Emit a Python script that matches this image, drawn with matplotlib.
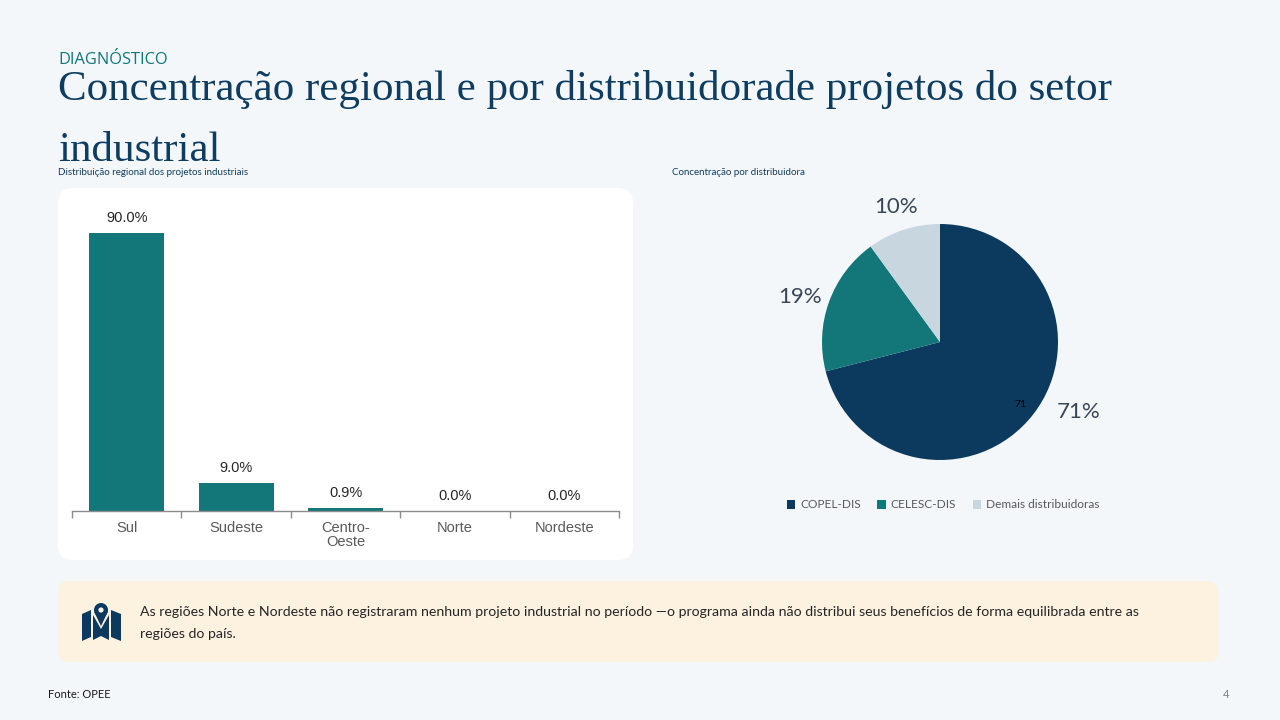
import matplotlib
matplotlib.use("Agg")
import matplotlib.pyplot as plt
from matplotlib.patches import FancyBboxPatch, Polygon, Circle
import numpy as np

# ---- data ----
regions = ["Sul", "Sudeste", "Centro-\nOeste", "Norte", "Nordeste"]
region_share = [90.0, 9.0, 0.9, 0.0, 0.0]
distributors = ["COPEL-DIS", "CELESC-DIS", "Demais distribuidoras"]
dist_share = [71, 19, 10]

# ---- styles ----
BG = "#F3F7FA"
NAVY = "#0B3A5E"
TEAL = "#13777A"
LIGHT = "#C8D6E0"
TITLE_C = "#0E3D61"
NOTE_BG = "#FDF1E0"
W, H = 1280, 720

fig = plt.figure(figsize=(12.8, 7.2), dpi=100, facecolor=BG)

def fx(px):
    return px / W

def fy(py):
    return 1 - py / H

# Header
fig.text(fx(58), fy(60), "DIAGNÓSTICO", family="Open Sans", fontsize=11.8,
         color=TEAL, va="center", ha="left")
fig.text(fx(58), fy(100), "Concentração regional e por distribuidorade projetos do setor",
         family="Liberation Serif", fontsize=31, color=TITLE_C, va="baseline", ha="left")
fig.text(fx(58), fy(161), "industrial",
         family="Liberation Serif", fontsize=31, color=TITLE_C, va="baseline", ha="left")

fig.text(fx(58), fy(172.5), "Distribuição regional dos projetos industriais", family="Lato",
         fontsize=7, color=TITLE_C, va="center", ha="left")
fig.text(fx(672), fy(172.5), "Concentração por distribuidora", family="Lato",
         fontsize=7, color=TITLE_C, va="center", ha="left")

# Card for bar chart (behind axes)
card = FancyBboxPatch((fx(58), fy(560)), fx(633 - 58), (560 - 188) / H,
                      boxstyle="round,pad=0,rounding_size=0.012",
                      transform=fig.transFigure, facecolor="white", edgecolor="none",
                      mutation_aspect=W / H, zorder=-5)
fig.patches.append(card)

# Bar chart
ax = fig.add_axes([fx(72), fy(511), fx(619 - 72), (511 - 202) / H], zorder=2)
ax.set_facecolor("none")
x = np.arange(len(regions))
bars = ax.bar(x, region_share, width=0.685, color=TEAL)
ax.set_xlim(-0.5, len(regions) - 0.5)
ax.set_ylim(0, 100)
for b, v in zip(bars, region_share):
    ax.annotate(f"{v:.1f}%", (b.get_x() + b.get_width() / 2, v), xytext=(0, 6),
                textcoords="offset points", ha="center", va="bottom",
                family="Liberation Sans", fontsize=10.5, color="#262626")
for s in ["top", "right", "left"]:
    ax.spines[s].set_visible(False)
ax.spines["bottom"].set_color("#8C8C8C")
ax.spines["bottom"].set_linewidth(1.0)
ax.set_yticks([])
ax.set_xticks(x)
ax.set_xticklabels(regions, family="Liberation Sans", fontsize=10.5, color="#595959",
                   linespacing=1.0, va="top")
ax.tick_params(axis="x", length=0, pad=7)
ax.set_xticks(np.arange(len(regions) + 1) - 0.5, minor=True)
ax.tick_params(axis="x", which="minor", length=5, color="#8C8C8C", width=1.0)

# Pie chart
r_px = 118
pax = fig.add_axes([fx(940 - r_px), fy(342 + r_px), fx(2 * r_px), 2 * r_px / H])
pax.set_facecolor("none")
wedges, texts, autotexts = pax.pie(
    dist_share, colors=[NAVY, TEAL, LIGHT], startangle=90, counterclock=False,
    labels=[f"{v}%" for v in dist_share], labeldistance=1.2,
    autopct=lambda p: f"{p:.0f}" if p > 50 else "", pctdistance=0.86,
    textprops=dict(family="Lato", fontsize=16, color="#3A4656"),
    wedgeprops=dict(linewidth=0))
pax.set_xlim(-1, 1)
pax.set_ylim(-1, 1)
pax.set_aspect("equal")
for t in autotexts:
    t.set_fontsize(7.5)
    t.set_color("black")
# nudge the large-slice label like the reference layout
w0 = wedges[0]
ang = np.deg2rad((w0.theta1 + w0.theta2) / 2 + 11)
texts[0].set_position((1.32 * np.cos(ang), 1.32 * np.sin(ang)))
w1 = wedges[1]
ang1 = np.deg2rad((w1.theta1 + w1.theta2) / 2 + 2)
texts[1].set_position((1.25 * np.cos(ang1), 1.25 * np.sin(ang1)))
for t in texts:
    t.set_ha("center")
    t.set_va("center")

leg = fig.legend(wedges, distributors, loc="center", bbox_to_anchor=(fx(943), fy(505)),
                 ncol=3, frameon=False, handlelength=0.7, handleheight=0.7,
                 handletextpad=0.4, columnspacing=1.4,
                 prop=dict(family="Lato", size=8.6))
for t in leg.get_texts():
    t.set_color("#595959")

# Note box
note = FancyBboxPatch((fx(58), fy(662)), fx(1218 - 58), (662 - 581) / H,
                      boxstyle="round,pad=0,rounding_size=0.008",
                      transform=fig.transFigure, facecolor=NOTE_BG, edgecolor="none",
                      mutation_aspect=W / H, zorder=-5)
fig.patches.append(note)

# Map icon in a pixel-coordinate axes
iax = fig.add_axes([fx(80), fy(643), fx(44), 44 / H])
iax.set_xlim(80, 124)
iax.set_ylim(643, 599)
iax.set_aspect("equal")
iax.axis("off")
icon_c = NAVY
iax.add_patch(Polygon([(82, 614), (91, 610), (91, 637), (82, 641)], closed=True, fc=icon_c, ec="none"))
iax.add_patch(Polygon([(93, 615), (101, 629), (109, 615), (109, 640), (101, 636), (93, 640)],
                      closed=True, fc=icon_c, ec="none"))
iax.add_patch(Polygon([(111, 610), (121, 614), (121, 641), (111, 637)], closed=True, fc=icon_c, ec="none"))
iax.add_patch(Polygon([(94.2, 612), (101, 626), (107.8, 612)], closed=True, fc=icon_c, ec="none"))
iax.add_patch(Circle((101, 610), 7, fc=icon_c, ec="none"))
iax.add_patch(Circle((101, 610), 2.6, fc=NOTE_BG, ec="none"))

fig.text(fx(140), fy(623),
         "As regiões Norte e Nordeste não registraram nenhum projeto industrial no período —o programa ainda não distribui seus benefícios de forma equilibrada entre as\nregiões do país.",
         family="Lato", fontsize=10.2, color="#262626", va="center", ha="left", linespacing=1.9)

fig.text(fx(48), fy(694), "Fonte: OPEE", family="Lato", fontsize=8, color="#1a1a1a",
         va="center", ha="left")
fig.text(fx(1229), fy(694), "4", family="Lato", fontsize=8, color="#7F7F7F",
         va="center", ha="right")

fig.savefig("out.png", dpi=100, facecolor=BG)
